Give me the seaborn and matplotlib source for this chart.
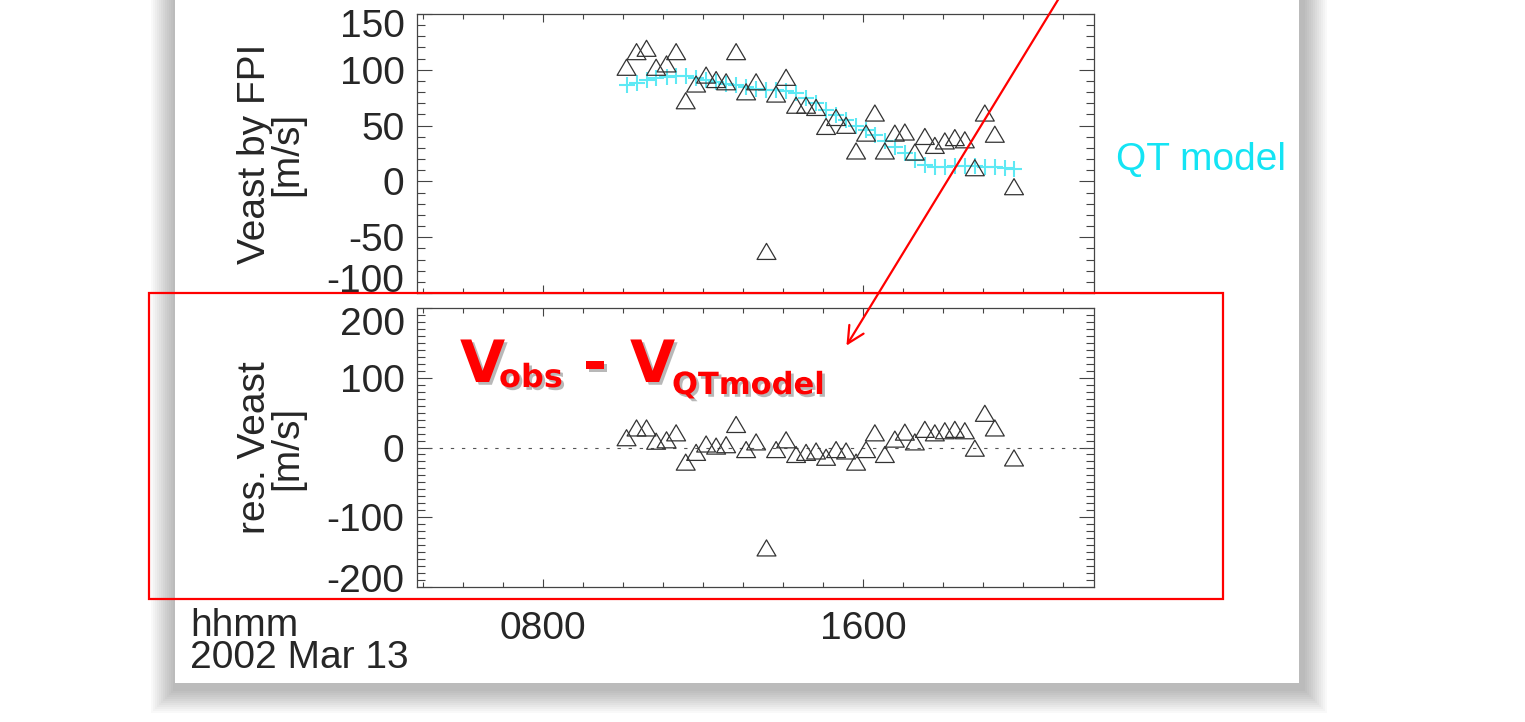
import numpy as np
import pandas as pd
import matplotlib
matplotlib.use("Agg")
import matplotlib.pyplot as plt
import matplotlib.patheffects as pe
import matplotlib.transforms as mtrans
from matplotlib.path import Path
from matplotlib.patches import Rectangle, FancyArrowPatch
from matplotlib.ticker import FixedLocator, MultipleLocator
import seaborn as sns

sns.set_style('ticks')
plt.rcParams['font.family'] = ['Liberation Sans', 'DejaVu Sans']

# time of each FPI sample, decimal hours (2002 Mar 13)
obs_time = [10.09, 10.34, 10.59, 10.83, 11.09, 11.33, 11.57, 11.83, 12.08, 12.33,
            12.58, 12.83, 13.08, 13.33, 13.59, 13.83, 14.08, 14.33, 14.58, 14.83,
            15.08, 15.33, 15.58, 15.83, 16.08, 16.30, 16.55, 16.80, 17.05, 17.30,
            17.55, 17.80, 18.05, 18.30, 18.55, 18.80, 19.05, 19.30, 19.78]
veast_obs = [101, 115, 118, 101, 104, 115, 71, 86, 94, 90,
             88, 115, 79, 88, -64, 77, 92, 67, 67, 65,
             48, 56, 49, 26, 42, 60, 26, 42, 43, 25,
             39, 31, 35, 38, 36, 11, 60, 41, -6]
veast_res = [12, 26, 26, 7, 9, 19, -23, -9, 3, 0,
             2, 31, -5, 6, -146, -5, 9, -12, -9, -7,
             -16, -5, -7, -23, -5, 19, -12, 10, 20, 6,
             24, 19, 22, 24, 22, -3, 47, 26, -17]

# QT model curve
model_time = [10.09, 10.34, 10.59, 10.83, 11.09, 11.33, 11.57, 11.83, 12.08, 12.33,
              12.58, 12.83, 13.08, 13.33, 13.59, 13.83, 14.08, 14.33, 14.58, 14.83,
              15.08, 15.33, 15.58, 15.83, 16.08, 16.30, 16.55, 16.80, 17.05, 17.30,
              17.55, 17.80, 18.05, 18.30, 18.55, 18.80, 19.05, 19.30, 19.55, 19.78]
veast_model = [86, 88, 91, 92.5, 93.5, 94, 94, 93, 91, 89.5,
               87.5, 86, 84.5, 83, 82, 81.5, 81, 79, 75, 70,
               64, 59.5, 55, 50, 46, 42, 36.5, 31, 25, 19,
               14.5, 13, 13, 13.5, 13.5, 13.5, 13, 13, 12, 11]

x_ticks = [8, 16]
x_ticklabels = ['0800', '1600']
top_yticks = [-100, -50, 0, 50, 100, 150]
bot_yticks = [-200, -100, 0, 100, 200]

obs = pd.DataFrame({'time': obs_time, 'veast': veast_obs, 'res': veast_res})
model = pd.DataFrame({'time': model_time, 'veast': veast_model})

W, H = 1525, 722
fig = plt.figure(figsize=(W / 100, H / 100), dpi=100)
fig.patch.set_facecolor('white')


def px(x, y):
    # image pixel (from top-left) -> figure fraction
    return x / W, 1 - y / H


# slide panel with a soft drop shadow
pl, pt, pr, pb = 175, -40, 1299, 683
for i in range(12):
    g = 2 * i
    x0, y0 = px(pl - 2 - g, pb + 8 + g)
    x1, y1 = px(pr + 6 + g, pt)
    fig.add_artist(Rectangle((x0, y0), x1 - x0, y1 - y0, transform=fig.transFigure,
                             facecolor='black', edgecolor='none', alpha=0.022, zorder=-3))
x0, y0 = px(pl, pb)
x1, y1 = px(pr, pt)
fig.add_artist(Rectangle((x0, y0), x1 - x0, y1 - y0, transform=fig.transFigure,
                         facecolor='white', edgecolor='none', zorder=-2))

ax_l, ax_r = 417, 1094
ax1 = fig.add_axes([ax_l / W, 1 - 293 / H, (ax_r - ax_l) / W, 279 / H])
ax2 = fig.add_axes([ax_l / W, 1 - 587 / H, (ax_r - ax_l) / W, 279 / H])

tri = Path([(0, 1), (-1, -0.7), (1, -0.7), (0, 1)], closed=True)
edge = '#333333'

sns.scatterplot(data=model, x='time', y='veast', marker='+', s=140, linewidth=1.5,
                color='#5ee9f4', ax=ax1, zorder=2)
sns.scatterplot(data=obs, x='time', y='veast', marker=tri, s=185, color=edge,
                facecolor='none', edgecolor=edge, linewidth=0.9, ax=ax1, zorder=3)
sns.scatterplot(data=obs, x='time', y='res', marker=tri, s=185, color=edge,
                facecolor='none', edgecolor=edge, linewidth=0.9, ax=ax2, zorder=3)
ax2.axhline(0, color='#555555', lw=0.8, ls=(0, (3, 7)), zorder=1)

for ax, yt, ylim, lab in [(ax1, top_yticks, (-100, 150), 'Veast by FPI\n[m/s]'),
                          (ax2, bot_yticks, (-200, 200), 'res. Veast\n[m/s]')]:
    ax.set_facecolor('none')
    ax.set_xlim(4.85, 21.78)
    ax.set_ylim(*ylim)
    ax.xaxis.set_major_locator(FixedLocator(x_ticks))
    ax.xaxis.set_minor_locator(MultipleLocator(1))
    ax.yaxis.set_major_locator(FixedLocator(yt))
    ax.yaxis.set_minor_locator(MultipleLocator(10))
    ax.set_yticklabels([str(v) for v in yt])
    ax.tick_params(which='both', direction='in', top=True, right=True,
                   color='#444444', width=0.8, labelsize=28)
    ax.tick_params(axis='y', which='major', length=11, pad=9)
    ax.tick_params(axis='y', which='minor', length=6)
    ax.tick_params(axis='x', which='major', length=6, pad=17)
    ax.tick_params(axis='x', which='minor', length=3.5)
    for s in ax.spines.values():
        s.set_color('#444444')
        s.set_linewidth(0.9)
    ax.set_xlabel('')
    ax.set_ylabel(lab, fontsize=28, linespacing=0.86)
    ax.yaxis.set_label_coords(-0.165, 0.5)

ax1.set_xticklabels([])
ax2.set_xticklabels(x_ticklabels)

# end labels sit a little inside the axis, as in the original
for ax, lo, hi in [(ax1, 15, 9), (ax2, 9, 13)]:
    labs = ax.get_yticklabels()
    labs[0].set_transform(labs[0].get_transform()
                          + mtrans.ScaledTranslation(0, lo / 100, fig.dpi_scale_trans))
    labs[-1].set_transform(labs[-1].get_transform()
                           + mtrans.ScaledTranslation(0, -hi / 100, fig.dpi_scale_trans))

fig.text(*px(190, 668), 'hhmm\n2002 Mar 13', fontsize=28, va='baseline', ha='left',
         linespacing=0.86)
fig.text(*px(1116, 170), 'QT model', fontsize=28, va='baseline', ha='left', color='#14e4f4')

# red annotation overlay
red = '#ff0000'
x0, y0 = px(149, 599)
x1, y1 = px(1223, 293)
fig.add_artist(Rectangle((x0, y0), x1 - x0, y1 - y0, transform=fig.transFigure,
                         facecolor='none', edgecolor=red, lw=1.6, zorder=10))
fig.add_artist(FancyArrowPatch(px(1064, -10), px(845, 348), transform=fig.transFigure,
                               arrowstyle='->,head_length=12,head_width=6',
                               mutation_scale=1, color=red, lw=1.6, zorder=10))

shadow = [pe.withSimplePatchShadow(offset=(2, -2), shadow_rgbFace='0.45', alpha=0.5)]
big = dict(color=red, fontweight='bold', family='DejaVu Sans', va='baseline',
           ha='left', zorder=11, path_effects=shadow)
fig.text(*px(460, 382), 'V', fontsize=42, **big)
fig.text(*px(499, 387), 'obs', fontsize=23, **big)
fig.text(*px(583, 382), '-', fontsize=42, **big)
fig.text(*px(630, 382), 'V', fontsize=42, **big)
fig.text(*px(672, 394), 'QTmodel', fontsize=22, **big)

fig.savefig('out.png', dpi=100)
